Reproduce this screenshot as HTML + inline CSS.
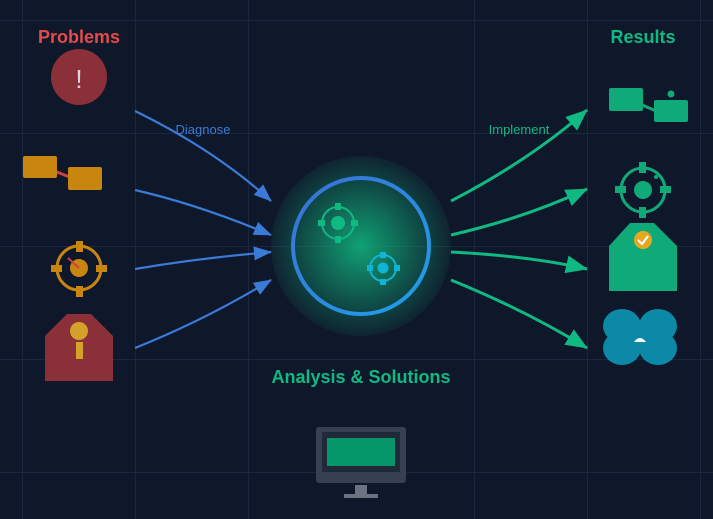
<!DOCTYPE html>
<html><head><style>
html,body{margin:0;padding:0;background:#0f172a;}
svg{display:block;font-family:"Liberation Sans",sans-serif;}
</style></head><body>
<svg width="713" height="519" viewBox="0 0 713 519" xmlns="http://www.w3.org/2000/svg">
<defs>
<radialGradient id="glow" cx="50%" cy="50%" r="50%">
<stop offset="0" stop-color="#10b981" stop-opacity="0.85"/>
<stop offset="0.7" stop-color="#10b981" stop-opacity="0.3"/>
<stop offset="1" stop-color="#10b981" stop-opacity="0.08"/>
</radialGradient>
<linearGradient id="ring" x1="0" y1="0" x2="1" y2="1">
<stop offset="0" stop-color="#3b6fd6"/><stop offset="1" stop-color="#1ea0e8"/>
</linearGradient>
<marker id="ag" markerWidth="22" markerHeight="18" refX="21" refY="9" orient="auto" markerUnits="userSpaceOnUse" viewBox="0 0 22 18"><path d="M0,0 L22,9 L0,18 z" fill="#10b981"/></marker>
<marker id="ab2" markerWidth="18" markerHeight="14" refX="17" refY="7" orient="auto" markerUnits="userSpaceOnUse" viewBox="0 0 18 14"><path d="M0,0 L18,7 L0,14 z" fill="#3b7bd8"/></marker>
</defs>
<rect width="713" height="519" fill="#0f172a"/>
<g stroke="#1a2740" stroke-width="1">
<line x1="22.5" y1="0" x2="22.5" y2="519"/><line x1="135.5" y1="0" x2="135.5" y2="519"/><line x1="248.5" y1="0" x2="248.5" y2="519"/><line x1="474.5" y1="0" x2="474.5" y2="519"/><line x1="587.5" y1="0" x2="587.5" y2="519"/><line x1="700.5" y1="0" x2="700.5" y2="519"/>
<line x1="0" y1="20.5" x2="713" y2="20.5"/><line x1="0" y1="133.5" x2="713" y2="133.5"/><line x1="0" y1="246.5" x2="713" y2="246.5"/><line x1="0" y1="359.5" x2="713" y2="359.5"/><line x1="0" y1="472.5" x2="713" y2="472.5"/>
</g>
<text x="79" y="43" fill="#e24b4b" font-size="18" font-weight="bold" text-anchor="middle">Problems</text>
<text x="643" y="43" fill="#10b981" font-size="18" font-weight="bold" text-anchor="middle">Results</text>
<circle cx="79" cy="77" r="28" fill="#8b3038"/>
<text x="79" y="88" fill="#d8d8d8" font-size="26" text-anchor="middle">!</text>
<line x1="52" y1="170" x2="72" y2="178" stroke="#d04040" stroke-width="3"/>
<rect x="23" y="156" width="34" height="22" rx="2" fill="#c8850f"/>
<rect x="68" y="167" width="34" height="23" rx="2" fill="#c8850f"/>
<circle cx="79" cy="268" r="22" fill="none" stroke="#c8850f" stroke-width="3"/>
<circle cx="79" cy="268" r="9" fill="#c8850f"/>
<rect x="76" y="241" width="7" height="11" fill="#c8850f"/><rect x="76" y="286" width="7" height="11" fill="#c8850f"/>
<rect x="51" y="265" width="11" height="7" fill="#c8850f"/><rect x="96" y="265" width="11" height="7" fill="#c8850f"/>
<line x1="68" y1="258" x2="79" y2="268" stroke="#d04040" stroke-width="2"/>
<path d="M67,314 L91,314 L113,336 L113,381 L45,381 L45,336 Z" fill="#8b3038"/>
<circle cx="79" cy="331" r="9" fill="#d4a22a"/><rect x="76" y="342" width="7" height="17" fill="#d4a22a"/>
<g fill="none" stroke="#3b7bd8" stroke-width="2.2" marker-end="url(#ab2)">
<path d="M135,111 Q215,150 271,201"/>
<path d="M135,190 Q200,205 271,235"/>
<path d="M135,269 Q200,258 271,252"/>
<path d="M135,348 Q205,320 271,280"/>
</g>
<text x="203" y="134" fill="#3b7bd8" font-size="13" text-anchor="middle">Diagnose</text>
<g fill="none" stroke="#10b981" stroke-width="3" marker-end="url(#ag)">
<path d="M451,201 Q530,160 587,110"/>
<path d="M451,235 Q525,218 587,189"/>
<path d="M451,252 Q530,256 587,269"/>
<path d="M451,280 Q525,310 587,348"/>
</g>
<text x="519" y="134" fill="#10b981" font-size="13" text-anchor="middle">Implement</text>
<circle cx="361" cy="246" r="90" fill="url(#glow)"/>
<circle cx="361" cy="246" r="68" fill="none" stroke="url(#ring)" stroke-width="4"/>
<g fill="#10b981"><circle cx="338" cy="223" r="16" fill="none" stroke="#10b981" stroke-width="2"/><circle cx="338" cy="223" r="7"/>
<rect x="335" y="203" width="6" height="7"/><rect x="335" y="236" width="6" height="7"/><rect x="318" y="220" width="7" height="6"/><rect x="351" y="220" width="7" height="6"/></g>
<g fill="#10b4d4"><circle cx="383" cy="268" r="13" fill="none" stroke="#10b4d4" stroke-width="2"/><circle cx="383" cy="268" r="5.5"/>
<rect x="380" y="252" width="6" height="6"/><rect x="380" y="279" width="6" height="6"/><rect x="367" y="265" width="6" height="6"/><rect x="394" y="265" width="6" height="6"/></g>
<text x="361" y="383" fill="#10b981" font-size="18" font-weight="bold" text-anchor="middle">Analysis &amp; Solutions</text>
<rect x="316" y="427" width="90" height="56" rx="3" fill="#374151"/>
<rect x="322" y="432" width="78" height="40" fill="#1f2937"/>
<rect x="327" y="438" width="68" height="28" fill="#059669"/>
<rect x="355" y="485" width="12" height="9" fill="#6b7280"/>
<rect x="344" y="494" width="34" height="4" fill="#6b7280"/>
<line x1="640" y1="104" x2="656" y2="111" stroke="#10a978" stroke-width="3"/>
<rect x="609" y="88" width="34" height="23" rx="2" fill="#10a978"/>
<rect x="654" y="100" width="34" height="22" rx="2" fill="#10a978"/>
<circle cx="671" cy="94" r="3.5" fill="#10a978"/>
<g fill="#10a978"><circle cx="643" cy="190" r="22" fill="none" stroke="#10a978" stroke-width="3"/><circle cx="643" cy="190" r="9"/>
<rect x="639" y="162" width="7" height="11" /><rect x="639" y="207" width="7" height="11"/><rect x="615" y="186" width="11" height="7"/><rect x="660" y="186" width="11" height="7"/>
<circle cx="656" cy="177" r="2"/></g>
<path d="M630,223 L654,223 L677,246 L677,291 L609,291 L609,246 Z" fill="#10a978"/>
<circle cx="643" cy="240" r="9" fill="#e4a823"/>
<path d="M638,240 L642,244 L648,236" fill="none" stroke="#fff" stroke-width="2"/>
<g fill="#0b89a6"><ellipse cx="622" cy="326" rx="19" ry="17"/><ellipse cx="658" cy="326" rx="19" ry="17"/><ellipse cx="622" cy="348" rx="19" ry="17"/><ellipse cx="658" cy="348" rx="19" ry="17"/><rect x="620" y="320" width="40" height="32"/></g>
<path d="M634,342 Q640,334 646,342 Z" fill="#fff"/>
</svg>
</body></html>
